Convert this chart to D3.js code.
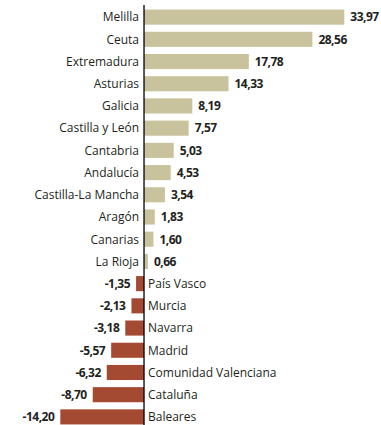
<!DOCTYPE html>
<html>
<head>
<meta charset="utf-8">
<script src="https://cdn.jsdelivr.net/npm/d3@7"></script>
<style>
  body { margin: 0; background: #fff; }
  svg { display: block; }
</style>
</head>
<body>
<div id="chart"></div>
<script>
// Data
const regions = ["Melilla", "Ceuta", "Extremadura", "Asturias", "Galicia", "Castilla y León",
  "Cantabria", "Andalucía", "Castilla-La Mancha", "Aragón", "Canarias", "La Rioja",
  "País Vasco", "Murcia", "Navarra", "Madrid", "Comunidad Valenciana", "Cataluña", "Baleares"];
const values = [33.97, 28.56, 17.78, 14.33, 8.19, 7.57, 5.03, 4.53, 3.54, 1.83, 1.60, 0.66,
  -1.35, -2.13, -3.18, -5.57, -6.32, -8.70, -14.20];

const W = 381, H = 425;
const POS_COLOR = '#c8c39d', NEG_COLOR = '#a54a32';
const TEXT_COLOR = '#231f20';

const rows = regions.map((r, i) => ({ name: r, value: values[i] }));

const svg = d3.select('#chart').append('svg')
  .attr('width', W).attr('height', H);

// x scale: zero at ~144px, Melilla ends at ~344px
const x = d3.scaleLinear().domain([-14.2, 33.97]).range([60.3, 344.3]);
const y = d3.scaleBand().domain(regions).range([6, 428]).paddingInner(0.32).paddingOuter(0.16);

const fmt = v => d3.format('.2f')(v).replace('.', ',').replace('−', '-');

// Bars
svg.append('g').selectAll('rect').data(rows).enter().append('rect')
  .attr('x', d => x(Math.min(0, d.value)))
  .attr('y', d => y(d.name))
  .attr('width', d => Math.abs(x(d.value) - x(0)))
  .attr('height', y.bandwidth())
  .attr('fill', d => d.value >= 0 ? POS_COLOR : NEG_COLOR);

// Zero axis line
svg.append('line')
  .attr('x1', x(0)).attr('x2', x(0))
  .attr('y1', 5).attr('y2', H)
  .attr('stroke', '#000').attr('stroke-width', 1.3);

// Category labels
svg.append('g').selectAll('text').data(rows).enter().append('text')
  .attr('x', d => d.value >= 0 ? x(0) - 5 : x(0) + 4)
  .attr('y', d => y(d.name) + y.bandwidth() / 2)
  .attr('dy', '0.36em')
  .attr('text-anchor', d => d.value >= 0 ? 'end' : 'start')
  .attr('font-family', '"Open Sans", sans-serif')
  .attr('font-size', 12)
  .attr('fill', TEXT_COLOR)
  .text(d => d.name);

// Value labels
svg.append('g').selectAll('text').data(rows).enter().append('text')
  .attr('x', d => d.value >= 0 ? x(d.value) + 6 : x(d.value) - 6)
  .attr('y', d => y(d.name) + y.bandwidth() / 2)
  .attr('dy', '0.36em')
  .attr('text-anchor', d => d.value >= 0 ? 'start' : 'end')
  .attr('font-family', '"Open Sans", sans-serif')
  .attr('font-weight', 'bold')
  .attr('font-size', 12)
  .attr('letter-spacing', -0.5)
  .attr('fill', TEXT_COLOR)
  .text(d => fmt(d.value));
</script>
</body>
</html>
